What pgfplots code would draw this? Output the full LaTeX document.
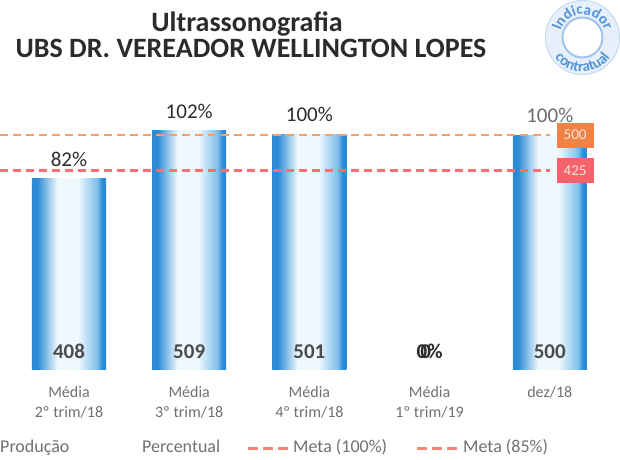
\documentclass[border=0pt]{standalone}
\usepackage{fontspec}
\setmainfont{Carlito}
\usepackage{pgfplots}
\pgfplotsset{compat=1.18}
\usetikzlibrary{decorations.text}

\definecolor{bdark}{HTML}{2B8BD6}
\definecolor{bmid}{HTML}{7FBFEC}
\definecolor{blight}{HTML}{EEF8FD}
\definecolor{meta100}{HTML}{F2A06E}
\definecolor{meta85}{HTML}{FA7072}
\definecolor{legdash}{HTML}{F88474}
\definecolor{box500}{HTML}{F08244}
\definecolor{box425}{HTML}{F4626C}
\definecolor{boxtxt}{HTML}{FFE2D8}
\definecolor{txtdark}{HTML}{2B2B2B}
\definecolor{tickgray}{HTML}{707070}
\definecolor{logoblue}{HTML}{5295D8}

% dark edges, light centre (path box is mapped onto 25bp..75bp)
\pgfdeclarehorizontalshading{barshade}{100bp}{color(0bp)=(bdark); color(25bp)=(bdark);
  color(28.5bp)=(bdark); color(42bp)=(blight); color(56bp)=(blight);
  color(69bp)=(bmid); color(72.5bp)=(bdark); color(75bp)=(bdark); color(100bp)=(bdark)}

\pgfplotsset{prodbar/.style={ybar, bar width=0.616, bar shift=0pt, draw=none,
  shade, shading=barshade}}

\begin{document}
\begin{tikzpicture}
\useasboundingbox (0pt,0pt) rectangle (620pt,459pt);

\begin{axis}[
  at={(0pt,89.5pt)}, anchor=south west,
  scale only axis,
  width=620pt, height=279.5pt,
  xmin=-0.574, xmax=4.584,
  ymin=0, ymax=596,
  axis line style={draw=none},
  ytick=\empty,
  xtick={0,1,2,3,4},
  xticklabels={{Média\\2º trim/18},{Média\\3º trim/18},{Média\\4º trim/18},{Média\\1º trim/19},{dez/18}},
  major tick length=0pt,
  xticklabel style={font=\fontsize{16}{20}\selectfont, text=tickgray,
    align=center, anchor=north, inner sep=0pt, yshift=-17pt},
  clip=false,
]
% Produção: one plot per bar so each bar gets its own shading
\addplot[prodbar] coordinates {(0,408)};
\addplot[prodbar] coordinates {(1,509)};
\addplot[prodbar] coordinates {(2,501)};
\addplot[ybar, bar width=0.616, bar shift=0pt, draw=none, fill=none] coordinates {(3,0)};
\addplot[prodbar] coordinates {(4,500)};

% metas
\addplot[meta100, line width=2.5pt, dash pattern=on 8pt off 5pt]
  coordinates {(-0.574,500) (4.0,500)};
\addplot[meta85, line width=3pt, dash pattern=on 8pt off 5pt]
  coordinates {(-0.574,425) (4.0,425)};

% percentual
\node[anchor=base, font=\fontsize{21}{21}\selectfont, text=txtdark, yshift=12pt] at (axis cs:0,408) {82\%};
\node[anchor=base, font=\fontsize{21}{21}\selectfont, text=txtdark, yshift=12pt] at (axis cs:1,509) {102\%};
\node[anchor=base, font=\fontsize{21}{21}\selectfont, text=txtdark, yshift=13pt] at (axis cs:2,501) {100\%};
\node[anchor=base, font=\fontsize{21}{21}\selectfont, text=gray!85!black, yshift=13pt] at (axis cs:4,500) {100\%};

% produção values
\node[anchor=base, font=\fontsize{21}{21}\selectfont\bfseries, text=txtdark!85, yshift=11pt] at (axis cs:0,0) {408};
\node[anchor=base, font=\fontsize{21}{21}\selectfont\bfseries, text=txtdark!85, yshift=11pt] at (axis cs:1,0) {509};
\node[anchor=base, font=\fontsize{21}{21}\selectfont\bfseries, text=txtdark!85, yshift=11pt] at (axis cs:2,0) {501};
\node[anchor=base, font=\fontsize{21}{21}\selectfont\bfseries, text=txtdark!85, yshift=11pt] at (axis cs:4,0) {500};
\node[anchor=base, font=\fontsize{21}{21}\selectfont\bfseries, text=txtdark, yshift=11pt] at (axis cs:3,0) {0\%};
\node[anchor=base, font=\fontsize{21}{21}\selectfont\bfseries, text=txtdark, yshift=11pt, xshift=-4pt] at (axis cs:3,0) {0};

% meta value boxes
\node[fill=box500, minimum width=37pt, minimum height=25pt, inner sep=0pt,
  font=\fontsize{15}{15}\selectfont, text=boxtxt] at (axis cs:4.21,500) {500};
\node[fill=box425, minimum width=37pt, minimum height=25pt, inner sep=0pt,
  font=\fontsize{15}{15}\selectfont, text=boxtxt] at (axis cs:4.21,425) {425};
\end{axis}

% title
\node[anchor=base, font=\fontsize{28}{28}\selectfont\bfseries, text=txtdark] at (247pt,428pt) {Ultrassonografia};
\node[anchor=base, font=\fontsize{28}{28}\selectfont\bfseries, text=txtdark] at (251pt,401.5pt) {UBS DR. VEREADOR WELLINGTON LOPES};

% legend
\begin{scope}[font=\fontsize{18}{18}\selectfont, text=tickgray]
\node[anchor=base west, inner sep=0pt] at (0pt,7pt) {Produção};
\node[anchor=base west, inner sep=0pt] at (142pt,7pt) {Percentual};
\draw[legdash, line width=3pt, dash pattern=on 10pt off 5pt] (248pt,11pt) -- (288pt,11pt);
\node[anchor=base west, inner sep=0pt] at (293pt,7pt) {Meta (100\%)};
\draw[legdash, line width=3pt, dash pattern=on 10pt off 5pt] (417pt,11pt) -- (457pt,11pt);
\node[anchor=base west, inner sep=0pt] at (463pt,7pt) {Meta (85\%)};
\end{scope}

% selo "Indicador contratual"
\begin{scope}[shift={(582.5pt,421.5pt)}]
\fill[logoblue!14] (0,0) circle (37pt);
\draw[logoblue!35, line width=1pt] (0,0) circle (37pt);
\fill[white] (0,0) circle (20pt);
\draw[logoblue!55, line width=2pt] (0,0) circle (20pt);
\path[decorate, decoration={text along path, text color=logoblue, text align=center,
  text={|\fontsize{15}{15}\selectfont\bfseries|Indicador}}] (170:23pt) arc (170:10:23pt);
\path[decorate, decoration={text along path, text color=logoblue, text align=center,
  text={|\fontsize{15}{15}\selectfont\bfseries|contratual}}] (190:34pt) arc (190:350:34pt);
\end{scope}
\end{tikzpicture}
\end{document}
